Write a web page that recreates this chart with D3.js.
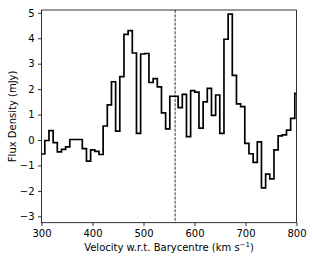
<!DOCTYPE html>
<html lang="en">
 <head>
 <meta http-equiv="Content-Type" content="text/html; charset=UTF-8">
        <title>Flux density spectrum</title>
        <script type="text/javascript" src="https://unpkg.com/d3@7/dist/d3.min.js"></script>
        <style>
          body { margin: 0; background: #fff; }
          text { font-family: "DejaVu Sans", sans-serif; font-size: 10px; fill: #000; }
        </style>
 </head>
 <body>
        <script type="text/javascript">

          // channel edges: first channel starts at 298.3 km/s, width 8.17 km/s
          var chanStart = 298.3;
          var chanWidth = 8.17;
          var flux = [-0.55, -0.02, 0.37, -0.1, -0.47, -0.37, -0.27, 0.02, 0.02, 0.02,
                      -0.34, -0.83, -0.39, -0.45, -0.57, 0.55, 1.38, 2.29, 0.35, 2.49,
                      4.15, 4.3, 3.42, 0.26, 3.38, 3.4, 2.26, 2.41, 2.09, 1.07,
                      0.44, 1.72, 1.72, 1.27, 1.79, 0.13, 1.94, 1.88, 0.47, 1.5,
                      2.03, 0.97, 1.77, 0.26, 3.96, 4.95, 2.54, 1.42, 1.31, -0.13,
                      -0.54, -0.88, -0.07, -1.88, -1.34, -1.53, -0.39, 0.16, 0.2, 0.39,
                      0.85, 1.83];
          var systemicVel = 562;
          var xTicks = [300, 400, 500, 600, 700, 800];
          var yTicks = [-3, -2, -1, 0, 1, 2, 3, 4, 5];

          var width = 312, height = 262;
          var plotL = 41.5, plotR = 296.5, plotT = 10, plotB = 222.7;

          var svg = d3.select("body").append("svg")
                      .attr("width", width)
                      .attr("height", height);

          var x = d3.scaleLinear().domain([300, 800]).range([plotL, plotR]);
          var y = d3.scaleLinear().domain([-3.25, 5.11]).range([plotB, plotT]);

          svg.append("clipPath").attr("id", "plotArea")
             .append("rect")
             .attr("x", plotL).attr("y", plotT)
             .attr("width", plotR - plotL).attr("height", plotB - plotT);

          // step points: each channel's value held across its width
          var pts = flux.map(function (v, i) { return [chanStart + i * chanWidth, v]; });
          pts.push([chanStart + flux.length * chanWidth, flux[flux.length - 1]]);

          var line = d3.line()
                       .x(function (d) { return x(d[0]); })
                       .y(function (d) { return y(d[1]); })
                       .curve(d3.curveStepAfter);

          svg.append("path")
             .datum(pts)
             .attr("clip-path", "url(#plotArea)")
             .attr("d", line)
             .attr("fill", "none")
             .attr("stroke", "#000")
             .attr("stroke-width", 1.7)
             .attr("stroke-linejoin", "miter");

          svg.append("line")
             .attr("x1", x(systemicVel)).attr("x2", x(systemicVel))
             .attr("y1", plotT).attr("y2", plotB)
             .attr("stroke", "#000")
             .attr("stroke-width", 0.8)
             .attr("stroke-dasharray", "2.96,1.28");

          var xAxis = d3.axisBottom(x).tickValues(xTicks).tickSize(3.5).tickPadding(3.5);
          var yAxis = d3.axisLeft(y).tickValues(yTicks).tickSize(3.5).tickPadding(3.5)
                        .tickFormat(function (d) { return d < 0 ? "\u2212" + Math.abs(d) : d; });

          var gx = svg.append("g").attr("transform", "translate(0," + plotB + ")").call(xAxis);
          var gy = svg.append("g").attr("transform", "translate(" + plotL + ",0)").call(yAxis);

          [gx, gy].forEach(function (g) {
            g.select(".domain").remove();
            g.selectAll(".tick line").attr("stroke", "#000").attr("stroke-width", 0.8);
            g.selectAll(".tick text").attr("font-family", "DejaVu Sans").attr("font-size", 10).attr("fill", "#000");
          });

          // frame
          svg.append("rect")
             .attr("x", plotL).attr("y", plotT)
             .attr("width", plotR - plotL).attr("height", plotB - plotT)
             .attr("fill", "none")
             .attr("stroke", "#000")
             .attr("stroke-width", 0.8);

          var xlab = svg.append("text")
             .attr("x", (plotL + plotR) / 2)
             .attr("y", 250.6)
             .attr("text-anchor", "middle");
          xlab.append("tspan").text("Velocity w.r.t. Barycentre (km s");
          xlab.append("tspan").attr("dy", -4).attr("font-size", 7).text("\u22121");
          xlab.append("tspan").attr("dy", 4).text(")");

          svg.append("text")
             .attr("transform", "translate(16.3," + (plotT + plotB) / 2 + ") rotate(-90)")
             .attr("text-anchor", "middle")
             .text("Flux Density (mJy)");

        </script>
    </body>
</html>
